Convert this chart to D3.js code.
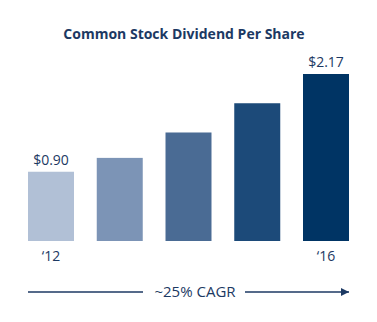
<!DOCTYPE html>
<html>
<head>
<meta charset="utf-8">
<style>
  html, body { margin: 0; padding: 0; background: #fff; }
  text { font-family: "Open Sans", sans-serif; }
</style>
</head>
<body>
<div id="chart"></div>
<script src="https://d3js.org/d3.v7.min.js"></script>
<script>
// data
var years = ["2012", "2013", "2014", "2015", "2016"];
var dividends = [0.90, 1.08, 1.41, 1.79, 2.17];
var tickLabels = ["\u201812", "", "", "", "\u201816"];
var valueLabels = ["$0.90", "", "", "", "$2.17"];
var barColors = ["#b1c0d6", "#7c94b6", "#4a6b94", "#1c4a79", "#003464"];

var width = 377, height = 322;
var ink = "#1c3963";

var svg = d3.select("#chart").append("svg")
    .attr("width", width)
    .attr("height", height);

var x = d3.scaleBand()
    .domain(years)
    .range([28, 349])
    .paddingInner(0.331)
    .paddingOuter(0);

var y = d3.scaleLinear()
    .domain([0, d3.max(dividends)])
    .range([241, 74]);

// title
svg.append("text")
    .attr("x", 184)
    .attr("y", 39)
    .attr("text-anchor", "middle")
    .style("font-size", "14px")
    .style("font-weight", "bold")
    .attr("fill", ink)
    .text("Common Stock Dividend Per Share");

// bars
svg.selectAll("rect.bar")
    .data(years)
    .enter()
    .append("rect")
    .attr("class", "bar")
    .attr("x", function(d) { return x(d); })
    .attr("y", function(d, i) { return y(dividends[i]); })
    .attr("width", x.bandwidth())
    .attr("height", function(d, i) { return y(0) - y(dividends[i]); })
    .attr("fill", function(d, i) { return barColors[i]; });

// value labels
svg.selectAll("text.val")
    .data(years)
    .enter()
    .append("text")
    .attr("class", "val")
    .attr("x", function(d) { return x(d) + x.bandwidth() / 2; })
    .attr("y", function(d, i) { return y(dividends[i]) - 7; })
    .attr("text-anchor", "middle")
    .style("font-size", "14px")
    .attr("fill", ink)
    .text(function(d, i) { return valueLabels[i]; });

// x axis (labels only)
var xAxis = d3.axisBottom(x)
    .tickSize(0)
    .tickPadding(10)
    .tickFormat(function(d, i) { return tickLabels[i]; });

var gx = svg.append("g")
    .attr("transform", "translate(0," + y(0) + ")")
    .call(xAxis);
gx.select(".domain").remove();
gx.selectAll("text")
    .style("font-size", "14px")
    .style("font-family", "'Open Sans', sans-serif")
    .attr("fill", ink);

// CAGR arrow
var arrowY = 292;
svg.append("defs").append("marker")
    .attr("id", "head")
    .attr("viewBox", "0 0 10 10")
    .attr("refX", 10)
    .attr("refY", 5)
    .attr("markerWidth", 8)
    .attr("markerHeight", 9)
    .attr("markerUnits", "userSpaceOnUse")
    .attr("orient", "auto")
    .append("path")
    .attr("d", "M0,0 L10,5 L0,10 Z")
    .attr("fill", ink);

svg.append("line")
    .attr("x1", 28).attr("x2", 143)
    .attr("y1", arrowY).attr("y2", arrowY)
    .attr("stroke", ink)
    .attr("stroke-width", 1.5);

svg.append("line")
    .attr("x1", 245).attr("x2", 349)
    .attr("y1", arrowY).attr("y2", arrowY)
    .attr("stroke", ink)
    .attr("stroke-width", 1.5)
    .attr("marker-end", "url(#head)");

svg.append("text")
    .attr("x", 195)
    .attr("y", arrowY + 5)
    .attr("text-anchor", "middle")
    .style("font-size", "15px")
    .attr("fill", ink)
    .text("~25% CAGR");
</script>
</body>
</html>
